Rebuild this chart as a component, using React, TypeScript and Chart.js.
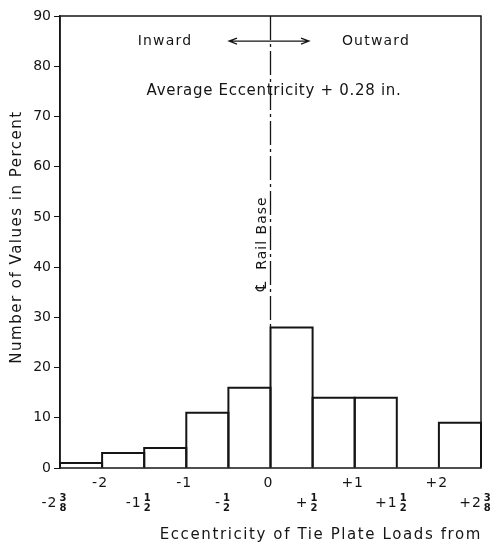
import React, { useEffect, useRef } from "react";
import { Chart, registerables } from "chart.js";

Chart.register(...registerables);

const BINS = ["b1", "b2", "b3", "b4", "b5", "b6", "b7", "b8", "b9", "b10"];
const PERCENTS = [1, 3, 4, 11, 16, 28, 14, 14, 0, 9];
const UPPER_EDGE_LABELS = ["", "-2", "", "-1", "", "0", "", "+1", "", "+2", ""];
const LOWER_EDGE_LABELS = ["-2 3/8", "", "-1 1/2", "", "- 1/2", "", "+ 1/2", "", "+1 1/2", "", "+2 3/8"];
const Y_TITLE = "Number of Values in Percent";
const X_TITLE = "Eccentricity of Tie Plate Loads from";
const NOTE_IN = "Inward";
const NOTE_OUT = "Outward";
const NOTE_AVG = "Average Eccentricity + 0.28 in.";
const RAIL_SYMBOL = "\u2104";
const RAIL_LABEL = "Rail Base";

const FONT = "DejaVu Sans, Verdana, sans-serif";
const INK = "#151515";

const drawFraction = (ctx: CanvasRenderingContext2D, label: string, cx: number, cy: number) => {
  const parts = label.split(" ");
  const whole = parts[0];
  const frac = parts[1] || "";
  const [num, den] = frac.split("/");
  ctx.letterSpacing = "1px";
  ctx.font = `14px ${FONT}`;
  const ww = ctx.measureText(whole).width;
  ctx.letterSpacing = "0px";
  ctx.font = `bold 10px ${FONT}`;
  const fw = Math.max(ctx.measureText(num || "").width, ctx.measureText(den || "").width);
  const gap = 2;
  const total = ww + gap + fw;
  let x = cx - total / 2;
  ctx.textBaseline = "middle";
  ctx.textAlign = "left";
  ctx.letterSpacing = "1px";
  ctx.font = `14px ${FONT}`;
  ctx.fillText(whole, x, cy);
  ctx.letterSpacing = "0px";
  x += ww + gap;
  ctx.font = `bold 10px ${FONT}`;
  ctx.textAlign = "center";
  ctx.fillText(num, x + fw / 2, cy - 5);
  ctx.fillText(den, x + fw / 2, cy + 5);
};

const outlinePlugin = {
  id: "outline",
  afterDatasetsDraw(chart: any) {
    const { ctx } = chart;
    const meta = chart.getDatasetMeta(0);
    ctx.save();
    ctx.strokeStyle = INK;
    ctx.lineWidth = 2;
    meta.data.forEach((bar: any, i: number) => {
      if (!PERCENTS[i]) return;
      const { x, y, base, width } = bar.getProps(["x", "y", "base", "width"], true);
      ctx.beginPath();
      ctx.moveTo(x - width / 2, base);
      ctx.lineTo(x - width / 2, y);
      ctx.lineTo(x + width / 2, y);
      ctx.lineTo(x + width / 2, base);
      ctx.stroke();
    });
    ctx.restore();
  },
};

const decorPlugin = {
  id: "decor",
  afterDraw(chart: any) {
    const { ctx, chartArea } = chart;
    const xs = chart.scales.x;
    const ys = chart.scales.y;
    const { left, right, top, bottom } = chartArea;
    const n = BINS.length;
    const binW = (right - left) / n;
    ctx.save();
    ctx.fillStyle = INK;
    ctx.strokeStyle = INK;
    // frame
    ctx.lineWidth = 1.5;
    ctx.strokeRect(left, top, right - left, bottom - top);
    // edge labels
    for (let i = 0; i <= n; i++) {
      const ex = xs.getPixelForValue(0) - binW / 2 + i * binW;
      if (UPPER_EDGE_LABELS[i]) {
        ctx.textAlign = "center";
        ctx.textBaseline = "middle";
        ctx.letterSpacing = "1px";
        ctx.font = `14px ${FONT}`;
        ctx.fillText(UPPER_EDGE_LABELS[i], ex - 2, bottom + 15);
      }
      if (LOWER_EDGE_LABELS[i]) {
        drawFraction(ctx, LOWER_EDGE_LABELS[i], ex - 6, bottom + 35);
      }
    }
    // x title
    ctx.letterSpacing = "1.6px";
    ctx.font = `15px ${FONT}`;
    ctx.textAlign = "right";
    ctx.textBaseline = "middle";
    ctx.fillText(X_TITLE, right + 1, bottom + 67);
    // y title
    ctx.save();
    ctx.translate(17, 237);
    ctx.rotate(-Math.PI / 2);
    ctx.textAlign = "center";
    ctx.textBaseline = "middle";
    ctx.letterSpacing = "1.5px";
    ctx.font = `15px ${FONT}`;
    ctx.fillText(Y_TITLE, 0, 0);
    ctx.restore();
    // center line (dash-dot)
    const cxl = xs.getPixelForValue(5) - binW / 2;
    ctx.lineWidth = 1.3;
    ctx.setLineDash([24, 4, 3, 4]);
    ctx.beginPath();
    ctx.moveTo(cxl, top);
    ctx.lineTo(cxl, ys.getPixelForValue(PERCENTS[5]));
    ctx.stroke();
    ctx.setLineDash([]);
    // rail base label
    ctx.save();
    ctx.translate(cxl - 8, 0);
    ctx.rotate(-Math.PI / 2);
    ctx.textAlign = "center";
    ctx.textBaseline = "middle";
    ctx.letterSpacing = "1px";
    ctx.font = `14px ${FONT}`;
    ctx.fillText(RAIL_LABEL, -233, 0);
    ctx.font = `15px ${FONT}`;
    ctx.fillText(RAIL_SYMBOL, -286, 0);
    ctx.restore();
    // annotations
    const yIn = ys.getPixelForValue(85);
    ctx.letterSpacing = "1.2px";
    ctx.font = `14px ${FONT}`;
    ctx.textAlign = "center";
    ctx.textBaseline = "middle";
    ctx.fillText(NOTE_IN, 165, yIn);
    ctx.fillText(NOTE_OUT, 376, yIn);
    // arrow
    const ax1 = 229, ax2 = 309;
    ctx.lineWidth = 1.2;
    ctx.beginPath();
    ctx.moveTo(ax1, yIn);
    ctx.lineTo(ax2, yIn);
    ctx.moveTo(ax1 + 8, yIn - 3);
    ctx.lineTo(ax1, yIn);
    ctx.lineTo(ax1 + 8, yIn + 3);
    ctx.moveTo(ax2 - 8, yIn - 3);
    ctx.lineTo(ax2, yIn);
    ctx.lineTo(ax2 - 8, yIn + 3);
    ctx.stroke();
    ctx.letterSpacing = "0.7px";
    ctx.font = `15px ${FONT}`;
    ctx.fillText(NOTE_AVG, 274, ys.getPixelForValue(75));
    ctx.restore();
  },
};

export default function App() {
  const ref = useRef<HTMLCanvasElement | null>(null);
  useEffect(() => {
    if (!ref.current) return;
    const chart = new Chart(ref.current, {
      type: "bar",
      data: {
        labels: BINS,
        datasets: [
          {
            data: PERCENTS,
            backgroundColor: "#ffffff",
            borderWidth: 0,
            categoryPercentage: 1,
            barPercentage: 1,
          },
        ],
      },
      options: {
        animation: false,
        responsive: false,
        maintainAspectRatio: false,
        layout: { padding: { left: 0, right: 11, top: 16, bottom: 0 } },
        plugins: { legend: { display: false }, tooltip: { enabled: false } },
        scales: {
          x: {
            ticks: { display: false },
            grid: { display: false },
            border: { display: false },
            afterFit: (s: any) => {
              s.height = 75;
            },
          },
          y: {
            min: 0,
            max: 90,
            ticks: {
              stepSize: 10,
              color: INK,
              font: { family: FONT, size: 14 },
              padding: 3,
            },
            grid: { drawOnChartArea: false, drawTicks: true, tickLength: 6, color: INK, lineWidth: 1 },
            border: { display: true, color: INK, width: 1.5 },
            afterFit: (s: any) => {
              s.width = 60;
            },
          },
        },
      },
      plugins: [outlinePlugin, decorPlugin],
    });
    return () => chart.destroy();
  }, []);
  return (
    <div style={{ position: "fixed", left: 0, top: 0, width: 492, height: 543, background: "#fff" }}>
      <canvas ref={ref} width={492} height={543} style={{ width: 492, height: 543 }} />
    </div>
  );
}
